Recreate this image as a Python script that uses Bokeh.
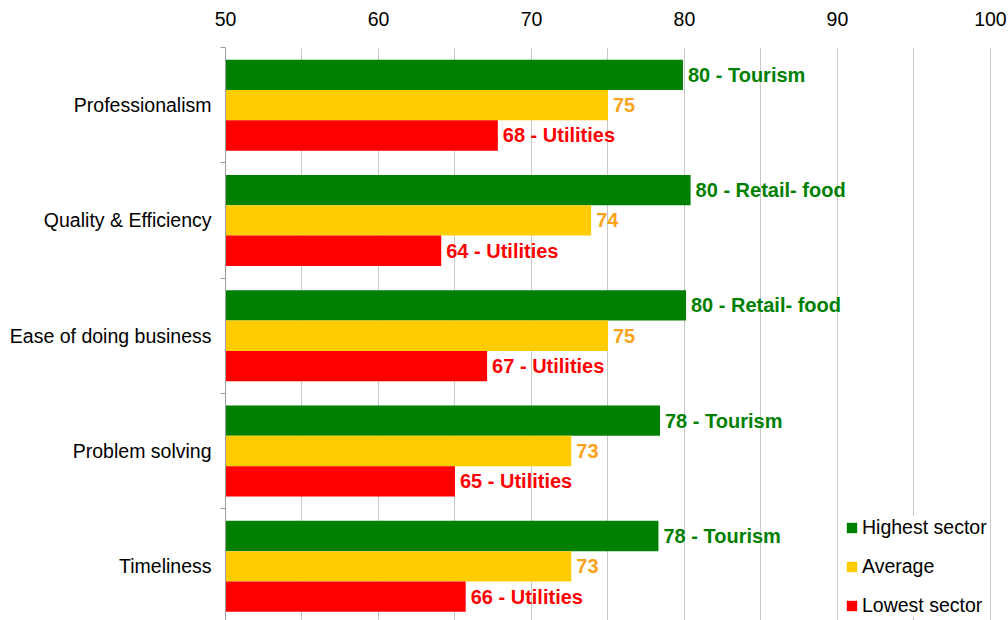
from bokeh.plotting import figure
from bokeh.models import Range1d, FixedTicker, Legend, LegendItem, ColumnDataSource
from bokeh.core.properties import value
from bokeh.embed import file_html
from bokeh.resources import INLINE

# ---- data ----
categories = ["Professionalism", "Quality & Efficiency", "Ease of doing business",
              "Problem solving", "Timeliness"]
highest = [79.9, 80.4, 80.1, 78.4, 78.3]
average = [75.0, 73.9, 75.0, 72.6, 72.6]
lowest = [67.8, 64.1, 67.1, 65.0, 65.7]
highest_sector = ["Tourism", "Retail- food", "Retail- food", "Tourism", "Tourism"]
lowest_sector = ["Utilities", "Utilities", "Utilities", "Utilities", "Utilities"]
series_names = ["Highest sector", "Average", "Lowest sector"]
x_ticks = [50, 60, 70, 80, 90, 100]
grid_ticks = [55, 60, 65, 70, 75, 80, 85, 90, 95, 100]

FONT = "Liberation Sans"
GREEN, YELLOW, RED = "#008000", "#FFCC00", "#FF0000"
AVG_TEXT = "#F9A31B"

idx = list(range(len(categories)))
off = 0.263

p = figure(width=1008, height=620, x_range=Range1d(50, 101.18), y_range=Range1d(4.47, -0.5),
           x_axis_location="above", toolbar_location=None, output_backend="svg",
           min_border_left=225, min_border_top=47, min_border_right=0, min_border_bottom=0)
p.outline_line_color = None
p.background_fill_color = "white"

series = [
    (highest, [f"{round(v)} - {s}" for v, s in zip(highest, highest_sector)], -off, GREEN, GREEN),
    (average, [f"{round(v)}" for v in average], 0.0, YELLOW, AVG_TEXT),
    (lowest, [f"{round(v)} - {s}" for v, s in zip(lowest, lowest_sector)], off, RED, RED),
]

renderers = []
for vals, labels, dy, color, tcolor in series:
    src = ColumnDataSource(dict(y=[i + dy for i in idx], v=vals, lab=labels))
    r = p.hbar(y="y", right="v", left=50, height=off, source=src,
               fill_color=color, line_color=None)
    renderers.append(r)
    p.text(x="v", y="y", text="lab", source=src, x_offset=5, text_baseline="middle",
           text_align="left", text_font=value(FONT), text_font_style="bold",
           text_font_size=value("20px"), text_color=tcolor)

# x axis (top)
p.xaxis.ticker = FixedTicker(ticks=x_ticks)
p.xaxis.axis_line_color = None
p.xaxis.major_tick_line_color = None
p.xaxis.minor_tick_line_color = None
p.xaxis.major_tick_out = 0
p.xaxis.major_tick_in = 0
p.xaxis.major_label_standoff = 22
p.xaxis.major_label_text_font = FONT
p.xaxis.major_label_text_font_size = "19.5px"
p.xaxis.major_label_text_color = "#000000"

# y axis (categories)
p.yaxis.ticker = FixedTicker(ticks=idx, minor_ticks=[i - 0.5 for i in idx] + [idx[-1] + 0.5])
p.yaxis.major_label_overrides = {i: c for i, c in zip(idx, categories)}
p.yaxis.axis_line_color = "#a0a0a0"
p.yaxis.major_tick_line_color = None
p.yaxis.major_tick_out = 0
p.yaxis.major_tick_in = 0
p.yaxis.minor_tick_line_color = "#a0a0a0"
p.yaxis.minor_tick_out = 5
p.yaxis.minor_tick_in = 0
p.yaxis.major_label_standoff = 9
p.yaxis.major_label_text_font = FONT
p.yaxis.major_label_text_font_size = "19.5px"
p.yaxis.major_label_text_color = "#000000"

# grid
p.xgrid.ticker = FixedTicker(ticks=grid_ticks)
p.xgrid.grid_line_color = "#c8c8c8"
p.ygrid.grid_line_color = None

legend = Legend(items=[LegendItem(label=n, renderers=[r]) for n, r in zip(series_names, renderers)],
                location=(620, 3), orientation="vertical",
                glyph_width=13, glyph_height=13, label_standoff=4, spacing=16,
                padding=12, margin=0, border_line_color=None,
                background_fill_color="white", background_fill_alpha=1.0,
                label_text_font=FONT, label_text_font_size="19.5px", label_text_color="#000000")
p.add_layout(legend)

open("out.html", "w").write(file_html(p, INLINE))
